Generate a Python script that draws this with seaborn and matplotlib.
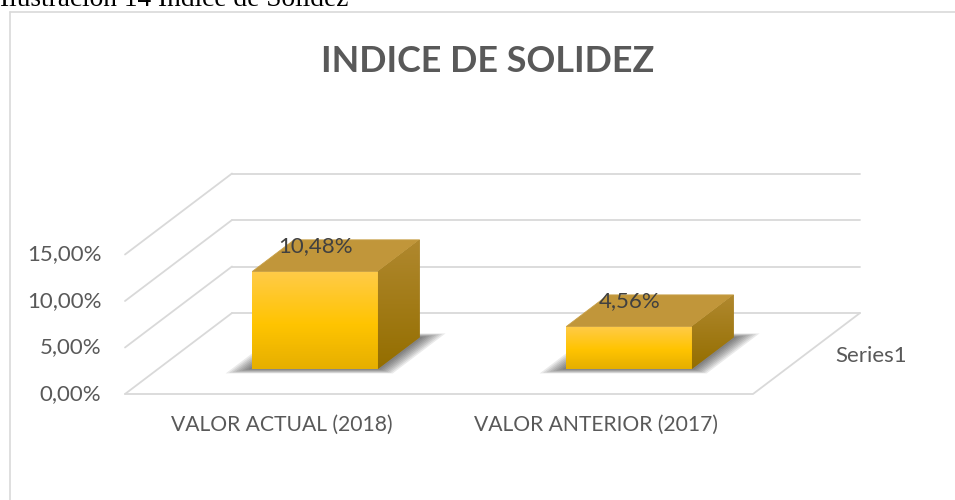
import numpy as np
import pandas as pd
import matplotlib
matplotlib.use("Agg")
import matplotlib.pyplot as plt
import seaborn as sns
from matplotlib.patches import Polygon
from matplotlib.lines import Line2D
from matplotlib.colors import LinearSegmentedColormap
import matplotlib.transforms as mtransforms

# ---------------- data ----------------
categories = ["VALOR ACTUAL (2018)", "VALOR ANTERIOR (2017)"]
values = [0.1048, 0.0456]
value_labels = ["10,48%", "4,56%"]
tick_values = [0.0, 0.05, 0.10, 0.15]
tick_labels = ["0,00%", "5,00%", "10,00%", "15,00%"]
series_name = "Series1"
title = "INDICE DE SOLIDEZ"
caption = "Ilustración 14 Índice de Solidez"

# ---------------- style ----------------
sns.set_theme(style="white")
plt.rcParams['font.family'] = ['Lato', 'DejaVu Sans']
TXT = "#595959"
GRID = "#D9D9D9"

W, H = 955, 500
fig = plt.figure(figsize=(W / 100, H / 100), dpi=100)
ax = fig.add_axes([0, 0, 1, 1])

# pixel <-> data mapping of the front plane
PX0, PXU = 125, 314      # x=-0.5 at px 125, 314 px per category
PY0, PYU = 394, 930      # value 0 at px 394, 930 px per unit value
def xl(px): return (px - PX0) / PXU - 0.5
def yl(py): return (PY0 - py) / PYU
DX, DY = 107 / PXU, 81 / PYU   # full depth vector in data units
D0, D1 = 0.31, 0.70            # bar depth range
XMIN, XMAX = -0.5, 1.5
BW = 0.4

def proj(x, v, d):
    return (x + d * DX, v + d * DY)

# ---------------- walls / gridlines ----------------
for t in tick_values:
    a = proj(XMIN, t, 1); b = proj(XMAX, t, 1)
    ax.add_line(Line2D([a[0], b[0]], [a[1], b[1]], color=GRID, lw=1.3, zorder=1))
    a = proj(XMIN, t, 0); b = proj(XMIN, t, 1)
    ax.add_line(Line2D([a[0], b[0]], [a[1], b[1]], color=GRID, lw=1.3, zorder=1))
p = [proj(XMIN, 0, 0), proj(XMAX, 0, 0), proj(XMAX, 0, 1)]
ax.add_line(Line2D([q[0] for q in p], [q[1] for q in p], color=GRID, lw=1.3, zorder=1))

# ---------------- bars (front faces via seaborn) ----------------
df = pd.DataFrame({"cat": categories, "val": values})
sns.barplot(data=df, x="cat", y="val", width=BW, color="#FFC000",
            saturation=1, ax=ax, zorder=3, linewidth=0)

tx, ty = D0 * DX, D0 * DY
tr = mtransforms.Affine2D().translate(tx, ty) + ax.transData
front_cmap = LinearSegmentedColormap.from_list(
    "front", [(0, "#E6AF00"), (0.45, "#FFC400"), (1, "#FFCB48")])
side_cmap = LinearSegmentedColormap.from_list(
    "side", [(0, "#946E00"), (1, "#B0882E")])
grad = np.linspace(1, 0, 64)[:, None]

bars = list(ax.patches)
for patch in bars:
    patch.set_transform(tr)
    x0 = patch.get_x()
    x1 = x0 + patch.get_width()
    v = patch.get_height()
    # shadow on floor
    for k in range(8):
        e = 0.01 + 0.008 * k
        ed = 0.02 + 0.02 * k
        shp = [proj(x0 - e, 0, D0 - ed * 0.35), proj(x1 + e, 0, D0 - ed * 0.35),
               proj(x1 + e, 0, D1 + ed * 0.3), proj(x0 - e, 0, D1 + ed * 0.3)]
        ax.add_patch(Polygon(shp, closed=True, fc="#1a1a1a", ec="none",
                             alpha=0.09, zorder=2))
    # front gradient
    ax.imshow(grad, cmap=front_cmap, extent=[x0 + tx, x1 + tx, ty, v + ty],
              aspect="auto", origin="upper", zorder=3.1, interpolation="bilinear")
    # top face
    top = [proj(x0, v, D0), proj(x1, v, D0), proj(x1, v, D1), proj(x0, v, D1)]
    ax.add_patch(Polygon(top, closed=True, fc="#C1963A", ec="#C8A048",
                         lw=0.6, zorder=3.2))
    # side face
    side = [proj(x1, v, D0), proj(x1, v, D1), proj(x1, 0, D1), proj(x1, 0, D0)]
    sp = Polygon(side, closed=True, fc="#A07A1A", ec="none", zorder=3.2)
    ax.add_patch(sp)
    im = ax.imshow(grad, cmap=side_cmap,
                   extent=[x1 + D0 * DX, x1 + D1 * DX, D0 * DY, v + D1 * DY],
                   aspect="auto", origin="upper", zorder=3.3, interpolation="bilinear")
    im.set_clip_path(sp)

# ---------------- texts ----------------
for t, lab in zip(tick_values, tick_labels):
    ax.annotate(lab, xy=proj(XMIN, t, 0), xytext=(-17, 0), textcoords="offset points",
                ha="right", va="center", fontsize=16, color=TXT, zorder=5)

for i, cat in enumerate(categories):
    ax.annotate(cat, xy=proj(i, 0, 0), xytext=(0, -22.5), textcoords="offset points",
                ha="center", va="center", fontsize=15.2, color=TXT, zorder=5)

for i, (v, lab) in enumerate(zip(values, value_labels)):
    ax.annotate(lab, xy=proj(i, v, D0), xytext=(0, 18), textcoords="offset points",
                ha="center", va="center", fontsize=16, color="#404040", zorder=6)

ax.annotate(series_name, xy=proj(XMAX, 0, 0.5), xytext=(21, -1.5),
            textcoords="offset points", ha="left", va="center",
            fontsize=16, color=TXT, zorder=5)

ax.set_xlim(xl(0), xl(W))
ax.set_ylim(yl(H), yl(0))
ax.axis("off")

fig.text(487.5 / W, 1 - 62 / H, title, ha="center", va="center",
         fontsize=25.8, fontweight="bold", color=TXT)
fig.text(0, 1 - 6 / H, caption, ha="left", va="baseline",
         fontsize=19.7, family=["Liberation Serif", "DejaVu Serif"], color="black")

# chart border
fig.add_artist(Line2D([10 / W, 10 / W], [0, 1 - 12 / H], transform=fig.transFigure,
                      color=GRID, lw=1.2))
fig.add_artist(Line2D([10 / W, 1], [1 - 12 / H, 1 - 12 / H], transform=fig.transFigure,
                      color=GRID, lw=1.2))

fig.savefig("out.png", dpi=100)
